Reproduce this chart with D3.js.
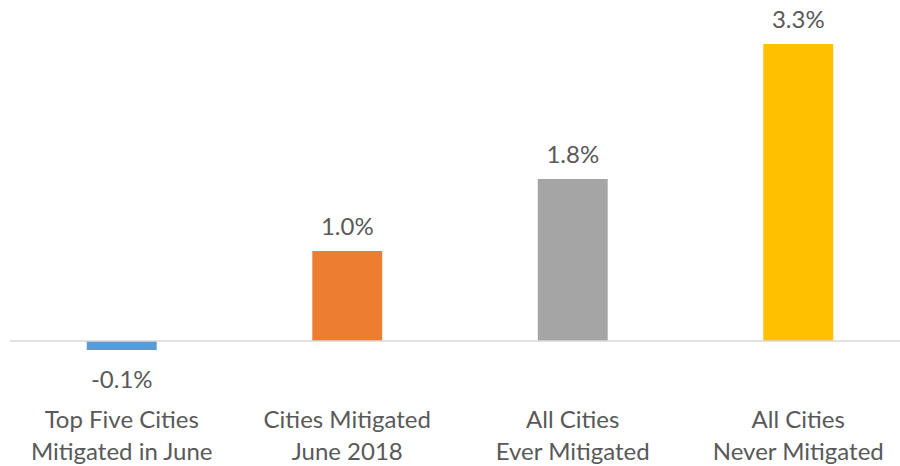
<!DOCTYPE html>
<html>
<head>
<meta charset="utf-8">
<style>
  body { margin: 0; background: #fff; }
  text { font-family: Lato, "Open Sans", sans-serif; fill: #595959; }
</style>
</head>
<body>
<div id="chart"></div>
<script src="https://d3js.org/d3.v7.min.js"></script>
<script>
const categories = [
  ["Top Five Cities", "Mitigated in June"],
  ["Cities Mitigated", "June 2018"],
  ["All Cities", "Ever Mitigated"],
  ["All Cities", "Never Mitigated"]
];
const values = [-0.1, 1.0, 1.8, 3.3];
const colors = ["#5B9BD5", "#ED7D31", "#A5A5A5", "#FFC000"];

const w = 900, h = 466;
const svg = d3.select("#chart").append("svg").attr("width", w).attr("height", h);

const x = d3.scaleBand()
  .domain(d3.range(values.length))
  .range([9, 911])
  .paddingInner(0.69)
  .paddingOuter(0.345);

const y = d3.scaleLinear().domain([-0.3, 3.5]).range([368, 26]);

// bars
svg.selectAll("rect.bar")
  .data(values)
  .enter()
  .append("rect")
  .attr("class", "bar")
  .attr("x", (d, i) => x(i))
  .attr("width", x.bandwidth())
  .attr("y", d => y(Math.max(0, d)))
  .attr("height", d => Math.abs(y(d) - y(0)))
  .attr("fill", (d, i) => colors[i]);

// zero line
svg.append("line")
  .attr("x1", 10).attr("x2", w)
  .attr("y1", y(0)).attr("y2", y(0))
  .attr("stroke", "#d9d9d9")
  .attr("stroke-width", 1.5);

// value labels
svg.selectAll("text.val")
  .data(values)
  .enter()
  .append("text")
  .attr("class", "val")
  .attr("x", (d, i) => x(i) + x.bandwidth() / 2)
  .attr("y", d => d >= 0 ? y(d) - 16 : y(d) + 38)
  .attr("text-anchor", "middle")
  .attr("font-size", 24)
  .text(d => d.toFixed(1) + "%");

// category labels
const cat = svg.selectAll("text.cat")
  .data(categories)
  .enter()
  .append("text")
  .attr("class", "cat")
  .attr("text-anchor", "middle")
  .attr("font-size", 24)
  .attr("transform", (d, i) => "translate(" + (x(i) + x.bandwidth() / 2) + ",428)");

cat.selectAll("tspan")
  .data(d => d)
  .enter()
  .append("tspan")
  .attr("x", 0)
  .attr("y", (d, j) => j * 32)
  .text(d => d);
</script>
</body>
</html>
